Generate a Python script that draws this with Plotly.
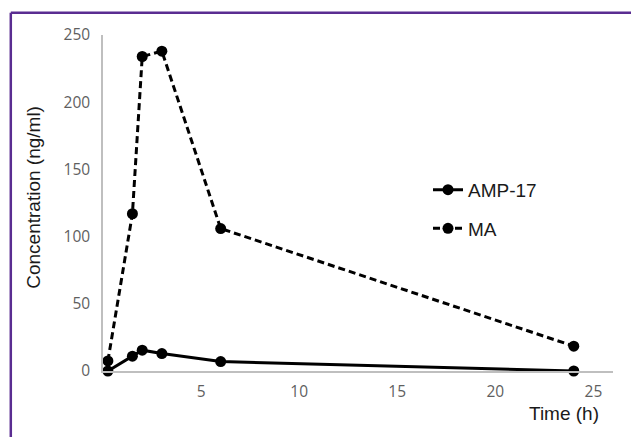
import plotly.graph_objects as go

# ---- data ----
time_h = [0.25, 1.5, 2, 3, 6, 24]
amp17 = [0, 11, 15.5, 13, 7, 0]
ma = [7.5, 117, 234, 238, 106, 18.5]
series_names = ["AMP-17", "MA"]
x_tickvals = [5, 10, 15, 20, 25]
y_tickvals = [0, 50, 100, 150, 200, 250]

W, H = 631, 437
L, R, T, B = 103, 18, 35, 65.5
pw, ph = W - L - R, H - T - B


def px(xp):
    return (xp - L) / pw


def py(yp):
    return (H - B - yp) / ph


fig = go.Figure()
fig.add_trace(go.Scatter(
    x=time_h, y=amp17, name=series_names[0], mode="lines+markers",
    line=dict(color="black", width=3),
    marker=dict(size=11, color="black"),
    legendgroup="a", cliponaxis=False,
))
fig.add_trace(go.Scatter(
    x=time_h, y=ma, name=series_names[1], mode="lines+markers",
    line=dict(color="black", width=3, dash="7px,4px"),
    marker=dict(size=11, color="black"),
    legendgroup="b", cliponaxis=False,
))

tick_font = dict(family="Open Sans", size=15.5, color="#5f5f5f")
txt_font = dict(family="Liberation Sans, Arial", size=19, color="#1a1a1a")

fig.update_layout(
    width=W, height=H,
    margin=dict(l=L, r=R, t=T, b=B, pad=0),
    paper_bgcolor="white", plot_bgcolor="white",
    showlegend=True,
    legend=dict(
        x=px(428), y=py(171), xanchor="left", yanchor="top",
        font=txt_font,
        bgcolor="rgba(0,0,0,0)", tracegroupgap=11,
    ),
    xaxis=dict(
        range=[0, 26], tickvals=x_tickvals, showgrid=False, zeroline=False,
        showline=True, linecolor="#bfbfbf", linewidth=1.5,
        ticks="", tickfont=tick_font, ticklabelstandoff=6,
    ),
    yaxis=dict(
        range=[0, 250], tickvals=y_tickvals, showgrid=False, zeroline=False,
        showline=True, linecolor="#bfbfbf", linewidth=1.5,
        ticks="", tickfont=tick_font, ticklabelstandoff=8,
    ),
    shapes=[
        dict(type="line", xref="paper", yref="paper",
             x0=px(10.8), x1=px(W + 20), y0=py(12.7), y1=py(12.7),
             line=dict(color="#5a2d91", width=2.5)),
        dict(type="line", xref="paper", yref="paper",
             x0=px(10.8), x1=px(10.8), y0=py(12.7), y1=py(H + 20),
             line=dict(color="#5a2d91", width=2.5)),
    ],
    annotations=[
        dict(text="Concentration (ng/ml)", xref="paper", yref="paper",
             x=px(34), y=py(198), textangle=-90, showarrow=False,
             xanchor="center", yanchor="middle", font=txt_font),
        dict(text="Time (h)", xref="paper", yref="paper",
             x=px(601), y=py(414), showarrow=False,
             xanchor="right", yanchor="middle", font=txt_font),
    ],
)

fig.write_html(
    "out.html",
    config={"displayModeBar": False},
    post_script="document.body.style.margin='0';document.body.style.overflow='hidden';",
)
